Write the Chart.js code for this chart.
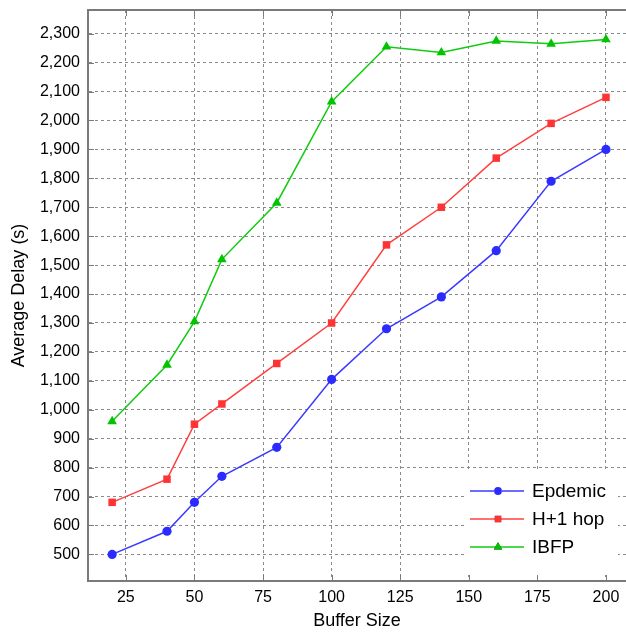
<!DOCTYPE html>
<html>
<head>
<meta charset="utf-8">
<script src="https://cdn.jsdelivr.net/npm/chart.js@4.4.1/dist/chart.umd.min.js"></script>
<style>
  html, body { margin: 0; padding: 0; background: #fff; overflow: hidden; }
  #wrap { width: 626px; height: 634px; }
  canvas { display: block; }
</style>
</head>
<body>
<div id="wrap"><canvas id="delayChart" width="626" height="634"></canvas></div>
<script>
// buffer sizes on x
const bufferSizes = [20, 40, 50, 60, 80, 100, 120, 140, 160, 180, 200];

// average delay (s) per protocol
const epidemicDelay = [500, 580, 680, 770, 870, 1105, 1280, 1390, 1550, 1790, 1900];
const hopDelay = [680, 760, 950, 1020, 1160, 1300, 1570, 1700, 1870, 1990, 2080];
const ibfpDelay = [960, 1155, 1305, 1520, 1715, 2065, 2255, 2235, 2275, 2265, 2280];

const seriesNames = ['Epdemic', 'H+1 hop', 'IBFP'];

const xTicks = [25, 50, 75, 100, 125, 150, 175, 200];
const yTicks = [500, 600, 700, 800, 900, 1000, 1100, 1200, 1300, 1400, 1500, 1600, 1700, 1800, 1900, 2000, 2100, 2200, 2300];

const fontFam = '"Liberation Sans", Arial, sans-serif';
const frameColor = '#7a7a7a';

function toPoints(ys) {
    return bufferSizes.map((x, i) => ({ x: x, y: ys[i] }));
}

// legend drawn as a white box in the lower right corner of the plot
const boxLegend = {
    id: 'boxLegend',
    afterDatasetsDraw(chart) {
        const ctx = chart.ctx;
        const area = chart.chartArea;
        const w = 154, h = 105;
        const left = area.right - 8 - w;
        const top = area.bottom - 6 - h;
        ctx.save();
        ctx.fillStyle = '#fff';
        ctx.fillRect(left, top, w, h);
        ctx.font = '19px ' + fontFam;
        ctx.textBaseline = 'middle';
        chart.data.datasets.forEach((ds, i) => {
            const y = top + 21 + i * 28;
            const mx = left + 34;
            ctx.strokeStyle = ds.borderColor;
            ctx.lineWidth = 1.5;
            ctx.beginPath();
            ctx.moveTo(left + 6, y);
            ctx.lineTo(left + 60, y);
            ctx.stroke();
            Chart.helpers.drawPoint(ctx, {
                pointStyle: ds.pointStyle,
                radius: ds.pointRadius * 0.85,
                borderWidth: 0
            }, mx, y);
            ctx.fillStyle = ds.pointBackgroundColor;
            ctx.fill();
            ctx.fillStyle = '#000';
            ctx.fillText(ds.label, left + 68, y + 1);
        });
        ctx.restore();
    }
};

// top frame line and small inward tick marks
const frame = {
    id: 'frame',
    afterDraw(chart) {
        const ctx = chart.ctx;
        const area = chart.chartArea;
        const xs = chart.scales.x;
        const ys = chart.scales.y;
        ctx.save();
        ctx.strokeStyle = frameColor;
        ctx.lineWidth = 2;
        ctx.beginPath();
        ctx.moveTo(area.left - 1, area.top);
        ctx.lineTo(area.right, area.top);
        ctx.stroke();
        ctx.lineWidth = 1;
        ctx.beginPath();
        xTicks.forEach(v => {
            const px = Math.round(xs.getPixelForValue(v)) + 0.5;
            ctx.moveTo(px, area.bottom);
            ctx.lineTo(px, area.bottom - 6);
            ctx.moveTo(px, area.top);
            ctx.lineTo(px, area.top + 6);
        });
        yTicks.forEach(v => {
            const py = Math.round(ys.getPixelForValue(v)) + 0.5;
            ctx.moveTo(area.left, py);
            ctx.lineTo(area.left + 6, py);
        });
        ctx.stroke();
        ctx.restore();
    }
};

const ctx = document.getElementById('delayChart').getContext('2d');

const chart = new Chart(ctx, {
    type: 'line',
    data: {
        datasets: [
            {
                label: seriesNames[0],
                data: toPoints(epidemicDelay),
                borderColor: '#3a3aff',
                backgroundColor: '#2b2bff',
                pointBackgroundColor: '#2b2bff',
                pointBorderWidth: 0,
                pointStyle: 'circle',
                pointRadius: 4.6,
                borderWidth: 1.5
            },
            {
                label: seriesNames[1],
                data: toPoints(hopDelay),
                borderColor: '#ff4040',
                backgroundColor: '#ff3333',
                pointBackgroundColor: '#ff3333',
                pointBorderWidth: 0,
                pointStyle: 'rect',
                pointRadius: 5.3,
                borderWidth: 1.5
            },
            {
                label: seriesNames[2],
                data: toPoints(ibfpDelay),
                borderColor: '#10cc10',
                backgroundColor: '#00c400',
                pointBackgroundColor: '#00c400',
                pointBorderWidth: 0,
                pointStyle: 'triangle',
                pointRadius: 5.6,
                borderWidth: 1.5
            }
        ]
    },
    options: {
        responsive: false,
        animation: false,
        layout: {
            autoPadding: false,
            padding: { top: 10, right: 0, left: 0, bottom: 0 }
        },
        elements: {
            line: { tension: 0 }
        },
        scales: {
            x: {
                type: 'linear',
                min: 11.2,
                max: 207.3,
                afterFit: function(scale) {
                    scale.height = 53;
                    scale.paddingLeft = 0;
                    scale.paddingRight = 0;
                },
                afterBuildTicks: function(scale) {
                    scale.ticks = xTicks.map(v => ({ value: v }));
                },
                grid: {
                    color: '#8a8a8a',
                    lineWidth: 1,
                    drawTicks: false
                },
                border: {
                    display: true,
                    color: frameColor,
                    width: 2,
                    dash: [3, 3]
                },
                ticks: {
                    padding: 7,
                    color: '#000',
                    maxRotation: 0,
                    font: { family: fontFam, size: 16 }
                },
                title: {
                    display: true,
                    text: 'Buffer Size',
                    color: '#000',
                    font: { family: fontFam, size: 18 },
                    padding: { top: 0, bottom: 2 }
                }
            },
            y: {
                min: 408,
                max: 2382,
                afterFit: function(scale) {
                    scale.width = 88;
                    scale.paddingTop = 0;
                    scale.paddingBottom = 0;
                },
                afterBuildTicks: function(scale) {
                    scale.ticks = yTicks.map(v => ({ value: v }));
                },
                grid: {
                    color: '#8a8a8a',
                    lineWidth: 1,
                    drawTicks: false
                },
                border: {
                    display: true,
                    color: frameColor,
                    width: 2,
                    dash: [3, 3]
                },
                ticks: {
                    padding: 8,
                    color: '#000',
                    font: { family: fontFam, size: 16 },
                    callback: function(value) { return value.toLocaleString('en-US'); }
                },
                title: {
                    display: true,
                    text: 'Average Delay (s)',
                    color: '#000',
                    font: { family: fontFam, size: 18 },
                    padding: { top: 8, bottom: 0 }
                }
            }
        },
        plugins: {
            legend: { display: false },
            tooltip: { enabled: false }
        }
    },
    plugins: [boxLegend, frame]
});
</script>
</body>
</html>
